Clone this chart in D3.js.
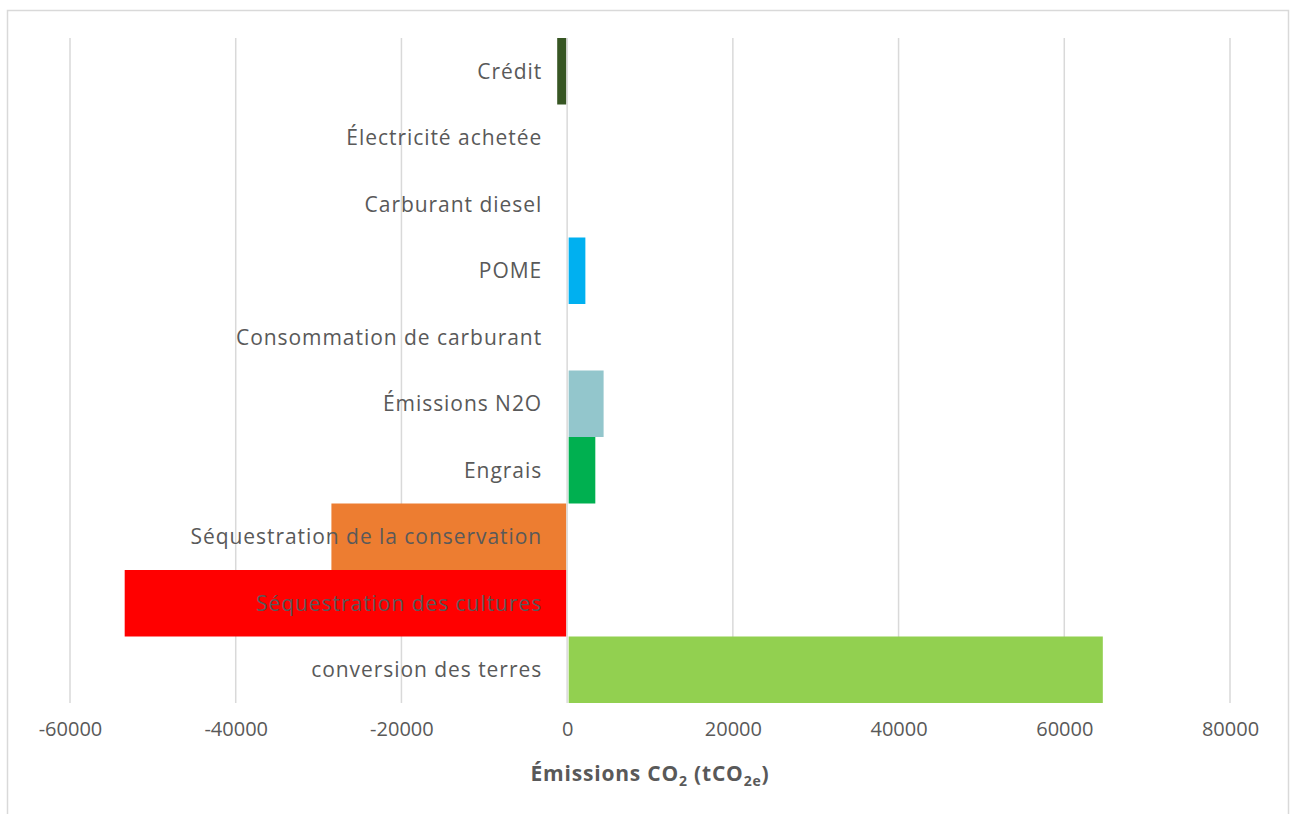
<!DOCTYPE html>
<html>
<head>
<meta charset="utf-8">
<script src="https://cdnjs.cloudflare.com/ajax/libs/d3/7.8.5/d3.min.js"></script>
<style>
  body { margin: 0; background: #fff; }
  text { font-family: "Open Sans", Lato, sans-serif; }
</style>
</head>
<body>
<div id="chart"></div>
<script>
// categories top to bottom
var categories = ["Crédit", "Électricité achetée", "Carburant diesel", "POME", "Consommation de carburant",
  "Émissions N2O", "Engrais", "Séquestration de la conservation", "Séquestration des cultures", "conversion des terres"];
var values = [-1200, 0, 0, 2200, 0, 4400, 3400, -28450, -53400, 64650];
var colors = ["#375623", "#A5A5A5", "#A5A5A5", "#00B0F0", "#A5A5A5", "#93C6CC", "#00B050", "#ED7D31", "#FF0000", "#92D050"];
var tickValues = [-60000, -40000, -20000, 0, 20000, 40000, 60000, 80000];

var W = 1291, H = 814;
var svg = d3.select("#chart").append("svg")
  .attr("width", W)
  .attr("height", H);

// chart frame
svg.append("rect")
  .attr("x", 7.5).attr("y", 10.5)
  .attr("width", 1281).attr("height", 820)
  .attr("fill", "#fff")
  .attr("stroke", "#d9d9d9")
  .attr("stroke-width", 1.5);

var x = d3.scaleLinear().domain([-60000, 80000]).range([70, 1230]);
var y = d3.scaleBand().domain(categories).range([38, 703]).padding(0);

// gridlines
svg.selectAll(".grid")
  .data(tickValues.filter(function(d) { return d != 0; }))
  .enter().append("line")
  .attr("class", "grid")
  .attr("x1", function(d) { return x(d); })
  .attr("x2", function(d) { return x(d); })
  .attr("y1", 38).attr("y2", 703)
  .attr("stroke", "#d9d9d9")
  .attr("stroke-width", 1.5);

// bars
svg.selectAll(".bar")
  .data(values)
  .enter().append("rect")
  .attr("class", "bar")
  .attr("x", function(d) { return d < 0 ? x(d) : x(0) + 1.5; })
  .attr("width", function(d) { return d == 0 ? 0 : Math.max(0, Math.abs(x(d) - x(0)) - (d > 0 ? 1.5 : 0.8)); })
  .attr("y", function(d, i) { return y(categories[i]); })
  .attr("height", y.bandwidth())
  .attr("fill", function(d, i) { return colors[i]; });

// zero axis line
svg.append("line")
  .attr("x1", x(0)).attr("x2", x(0))
  .attr("y1", 38).attr("y2", 703)
  .attr("stroke", "#d9d9d9")
  .attr("stroke-width", 1.5);

// category labels
svg.selectAll(".cat")
  .data(categories)
  .enter().append("text")
  .attr("class", "cat")
  .attr("x", x(0) - 25)
  .attr("y", function(d) { return y(d) + y.bandwidth() / 2; })
  .attr("dy", "0.35em")
  .attr("text-anchor", "end")
  .attr("font-size", 21)
  .attr("letter-spacing", 0.95)
  .attr("fill", "#595959")
  .text(function(d) { return d; });

// x axis tick labels (plain hyphen for minus)
var xAxis = d3.axisBottom(x).tickValues(tickValues).tickSize(0).tickPadding(0)
  .tickFormat(function(d) { return String(d); });
var gx = svg.append("g")
  .attr("transform", "translate(0,722)")
  .call(xAxis);
gx.select(".domain").remove();
gx.selectAll("text")
  .attr("font-size", 20)
  .attr("fill", "#595959")
  .attr("dy", "0.71em")
  .style("font-family", "'Open Sans', Lato, sans-serif");

// axis title with subscripts
var title = svg.append("text")
  .attr("x", 650)
  .attr("y", 781)
  .attr("text-anchor", "middle")
  .attr("font-size", 21)
  .attr("font-weight", "bold")
  .attr("letter-spacing", 0.8)
  .attr("fill", "#595959");
title.append("tspan").text("Émissions CO");
title.append("tspan").attr("font-size", 14).attr("dy", 5).text("2");
title.append("tspan").attr("dy", -5).text(" (tCO");
title.append("tspan").attr("font-size", 14).attr("dy", 5).text("2e");
title.append("tspan").attr("dy", -5).text(")");
</script>
</body>
</html>
